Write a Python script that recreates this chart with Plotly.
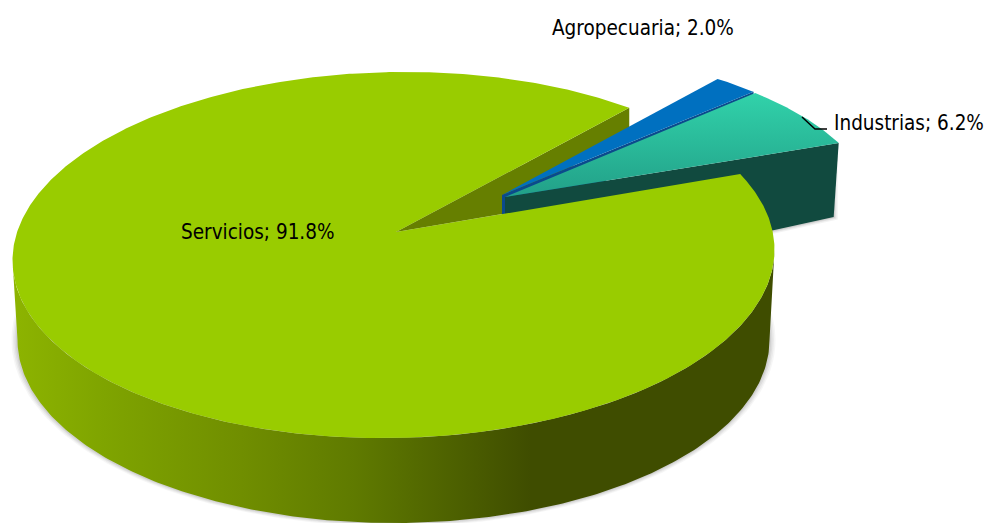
import numpy as np
import plotly.graph_objects as go

categories = ["Servicios", "Industrias", "Agropecuaria"]
shares = [91.8, 6.2, 2.0]

W, H = 984, 523
START = 24.5          # rim angle where Servicios ends / Industrias begins
PERSPECTIVE = 1.0068  # foreshortening of the big slice sweep
FONT = "DejaVu Sans Condensed"

sweep = {c: s * 3.6 for c, s in zip(categories, shares)}
ind_a = (START, START + sweep["Industrias"])
agr_a = (ind_a[1], ind_a[1] + sweep["Agropecuaria"])
srv_start = START + 360 - sweep["Servicios"] * PERSPECTIVE


def rim(t, cx=393.5, cy=255, a=381, b=183, tilt=-0.0144):
    t = np.radians(t)
    x = cx + a * np.cos(t)
    y = cy - b * np.sin(t) + tilt * a * np.cos(t)
    return x, y


def arc(t0, t1, n=240, **k):
    return rim(np.linspace(t0, t1, n), **k)


fig = go.Figure()


def poly(x, y, color=None, grad=None, opacity=1.0):
    x = np.append(x, x[0])
    y = np.append(y, y[0])
    kw = dict(x=x, y=y, mode="lines", line=dict(width=0), fill="toself",
              hoverinfo="skip", showlegend=False, opacity=opacity)
    if grad is not None:
        kw["fillgradient"] = grad
    else:
        kw["fillcolor"] = color
    fig.add_trace(go.Scatter(**kw))


BOTTOM = dict(cx=393.5, cy=340, a=376, b=183, tilt=0)
EXPL = dict(cx=502, cy=209, a=370, b=159, tilt=0)
EXPL_B = dict(cx=499, cy=210, a=372, b=162, tilt=0)
APEX = (396, 232)
APEX_IND = (505, 197)
APEX_AGR = (502, 195)

# soft shadows behind the wall
for grow, op in [(6, 0.07), (4.5, 0.09), (3, 0.12), (1.5, 0.16)]:
    k = dict(BOTTOM, a=BOTTOM["a"] + grow, b=BOTTOM["b"] + grow * 0.6, cy=340)
    sx, sy = arc(0, 360, **k)
    poly(sx, sy, "#808080", opacity=op)

# Servicios cut face (olive)
rx, ry = rim(srv_start)
poly(np.array([APEX[0], rx, rx, 502]), np.array([APEX[1], ry, ry + 20, 214]), "#667F00")

# Agropecuaria
ax, ay = arc(agr_a[0], agr_a[1], 20, **EXPL_B)
wx, wy = rim(agr_a[0], **EXPL_B)
poly(np.array([APEX_AGR[0], wx, wx, APEX_AGR[0]]),
     np.array([APEX_AGR[1], wy, wy + 4.5, 240]), "#0B4A8C")
poly(np.r_[APEX_AGR[0], ax], np.r_[APEX_AGR[1], ay], "#0070C0")

# Industrias
ix, iy = arc(ind_a[0], ind_a[1], 60, **EXPL)
ex, ey = rim(ind_a[0], **EXPL)
# shadow under the Industrias wall
for grow, op in [(4, 0.10), (2.5, 0.15), (1.2, 0.2)]:
    poly(np.array([ex - 5 + grow, ex - 5 + grow, 600]),
         np.array([ey, ey + 74 + grow * 0.6, ey + 74 + 0.22 * (ex - 605) + grow]), "#808080", opacity=op)
poly(np.array([APEX_IND[0], ex, ex - 5, APEX_IND[0]]),
     np.array([APEX_IND[1], ey, ey + 74, ey + 74 + 0.22 * (ex - 5 - APEX_IND[0])]), "#114A3F")
poly(np.r_[APEX_IND[0], ix], np.r_[APEX_IND[1], iy],
     grad=dict(type="vertical", colorscale=[[0, "#22A088"], [1, "#31D2AA"]]))

# Servicios outer wall
tx, ty = arc(180, 360)
bx, by = arc(360, 180, **BOTTOM)
poly(np.r_[tx, bx], np.r_[ty, by],
     grad=dict(type="horizontal", colorscale=[
         [0.0, "#8DB400"], [0.12, "#7FA400"], [0.30, "#708E00"],
         [0.45, "#5F7A00"], [0.68, "#3F4D00"], [1.0, "#3F4D00"]]))

# Servicios top
tt = np.linspace(srv_start, srv_start + sweep["Servicios"] * PERSPECTIVE, 720)
sx, sy = rim(tt)
poly(np.r_[APEX[0], sx], np.r_[APEX[1], sy], "#99CC00")

# leader line for Industrias
fig.add_trace(go.Scatter(x=[802, 815, 827], y=[117, 129, 129], mode="lines",
                         line=dict(color="#000000", width=1.5),
                         hoverinfo="skip", showlegend=False))

label_pos = {"Servicios": (181, 232), "Industrias": (834, 123), "Agropecuaria": (552, 28)}
for c, s in zip(categories, shares):
    px, py = label_pos[c]
    fig.add_annotation(x=px, y=py, text=f"{c}; {s:.1f}%", showarrow=False,
                       xanchor="left", yanchor="middle", xshift=-2,
                       font=dict(family=FONT, size=20.5, color="#000000"))

fig.update_layout(width=W, height=H, margin=dict(l=0, r=0, t=0, b=0),
                  paper_bgcolor="white", plot_bgcolor="white", showlegend=False,
                  xaxis=dict(range=[0, W], visible=False, fixedrange=True),
                  yaxis=dict(range=[H, 0], visible=False, fixedrange=True),
                  hovermode=False)
fig.write_html("out.html", config={"displayModeBar": False},
               post_script="document.body.style.margin='0';document.body.style.overflow='hidden';")
